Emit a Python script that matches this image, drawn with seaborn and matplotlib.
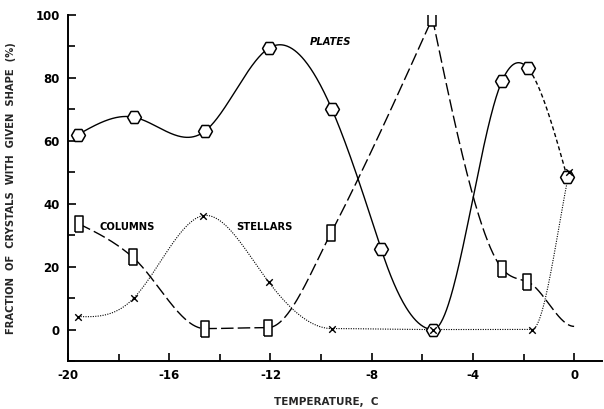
import numpy as np
import pandas as pd
import matplotlib
matplotlib.use("Agg")
import matplotlib.pyplot as plt
import seaborn as sns

# Crystal habit fractions (%) versus temperature (C)
plates_t = [-19.6, -17.4, -14.6, -12.05, -9.57, -7.63, -5.57, -2.85, -1.82, -0.28]
plates_pct = [62, 67.5, 63, 89.5, 70, 25.7, 0, 79, 83, 48.6]

columns_t = [-19.57, -17.43, -14.6, -12.1, -9.6, -5.6, -2.85, -1.85]
columns_pct = [33.6, 22.9, 0.3, 0.6, 30.8, 99, 19.4, 15.2]
columns_end_t, columns_end_pct = 0.0, 1.0

stellars_t = [-19.6, -17.4, -14.66, -12.06, -9.57, -5.57, -1.66, -0.2]
stellars_pct = [4.1, 10, 36.2, 15, 0.3, 0, 0, 50]

x_ticks = [-20, -16, -12, -8, -4, 0]
y_ticks = [0, 20, 40, 60, 80, 100]


def natural_slopes(x, y):
    k = len(x); h = np.diff(x); d = np.diff(y) / h
    if k == 2:
        return np.array([d[0], d[0]])
    A = np.zeros((k, k)); r = np.zeros(k)
    A[0, 0] = A[-1, -1] = 1
    for i in range(1, k - 1):
        A[i, i - 1] = h[i - 1]; A[i, i] = 2 * (h[i - 1] + h[i]); A[i, i + 1] = h[i]
        r[i] = 6 * (d[i] - d[i - 1])
    M = np.linalg.solve(A, r)
    m = np.empty(k)
    m[:-1] = d - h * (2 * M[:-1] + M[1:]) / 6
    m[-1] = d[-1] + h[-1] * (M[-2] + 2 * M[-1]) / 6
    return m


def hermite(x, y, m_out, m_in, xs):
    h = np.diff(x)
    j = np.clip(np.searchsorted(x, xs) - 1, 0, len(x) - 2)
    t = (xs - x[j]) / h[j]
    h00 = 2 * t**3 - 3 * t**2 + 1; h10 = t**3 - 2 * t**2 + t
    h01 = -2 * t**3 + 3 * t**2; h11 = t**3 - t**2
    return h00 * y[j] + h10 * h[j] * m_out[j] + h01 * y[j + 1] + h11 * h[j] * m_in[j + 1]


def smooth_curve(x, y, n=800):
    """Piecewise natural-spline curve: flat where the fraction sits at 0 %,
    pointed (split into separate pieces) where it reaches ~100 %."""
    x = np.asarray(x, float); y = np.asarray(y, float)
    k = len(x)
    cuts = [0] + [i for i in range(1, k - 1) if y[i] >= 98.0] + [k - 1]
    m_out = np.zeros(k); m_in = np.zeros(k)
    for a, b in zip(cuts[:-1], cuts[1:]):
        m = natural_slopes(x[a:b + 1], y[a:b + 1])
        m_out[a:b] = m[:-1]
        m_in[a + 1:b + 1] = m[1:]
    low = y <= 1.0
    m_out[low] = 0.0; m_in[low] = 0.0
    xs = np.linspace(x[0], x[-1], n)
    return xs, np.clip(hermite(x, y, m_out, m_in, xs), 0, None)


sns.set_style("ticks")
plt.rcParams["font.family"] = ["DejaVu Sans"]

fig = plt.figure(figsize=(6.04, 4.09), dpi=100)
ax = fig.add_axes([0.1126, 0.1174, 0.884, 0.846])

# plates: solid curve, short-dashed over the last interval
xp, yp = smooth_curve(plates_t, plates_pct)
solid = xp <= plates_t[-2]
sns.lineplot(x=xp[solid], y=yp[solid], ax=ax, color="black", lw=1.0, sort=False)
ax.plot(xp[~solid], yp[~solid], color="black", lw=1.0, dashes=(3, 2))

# columns: long-dashed curve
xc, yc = smooth_curve(columns_t + [columns_end_t], columns_pct + [columns_end_pct])
sns.lineplot(x=xc, y=yc, ax=ax, color="black", lw=1.0, sort=False)
ax.lines[-1].set_dashes((9, 3))

# stellars: fine dotted curve
xs, ys = smooth_curve(stellars_t, stellars_pct)
sns.lineplot(x=xs, y=ys, ax=ax, color="black", lw=0.8, sort=False)
ax.lines[-1].set_dashes((1, 1.2))

# markers
rect = [(-0.5, -1), (0.5, -1), (0.5, 1), (-0.5, 1), (-0.5, -1)]
sns.scatterplot(x=columns_t, y=columns_pct, ax=ax, marker=rect, s=140,
                facecolor="white", edgecolor="black", linewidth=1.1, zorder=5)
sns.scatterplot(x=plates_t, y=plates_pct, ax=ax, marker="H", s=100,
                facecolor="white", edgecolor="black", linewidth=1.1, zorder=6)
sns.scatterplot(x=stellars_t, y=stellars_pct, ax=ax, marker="x", s=22,
                color="black", linewidth=1.0, zorder=7)

# series labels
lab = dict(fontsize=7.2, fontweight="bold", color="black")
ax.text(-10.45, 91.5, "PLATES", ha="left", va="center", style="italic", **lab)
ax.text(-18.75, 32.7, "COLUMNS", ha="left", va="center", **lab)
ax.text(-13.35, 32.5, "STELLARS", ha="left", va="center", **lab)

ax.set_xlim(-20, 1.1)
ax.set_ylim(-10, 100)
ax.set_xticks(x_ticks)
ax.set_xticklabels([str(v) for v in x_ticks])
ax.set_xticks(np.arange(-18, 1, 4), minor=True)
ax.set_yticks(y_ticks)
ax.set_yticklabels([str(v) for v in y_ticks])
ax.set_yticks(np.arange(-10, 100, 20), minor=True)
ax.tick_params(axis="both", which="both", direction="in", width=1.2, colors="black",
               labelsize=8.5, pad=6)
ax.tick_params(which="major", length=6)
ax.tick_params(which="minor", length=5)
for t in ax.get_xticklabels() + ax.get_yticklabels():
    t.set_fontweight("bold")
sns.despine(ax=ax)
for s in ("left", "bottom"):
    ax.spines[s].set_linewidth(1.4)
    ax.spines[s].set_color("black")

ax.set_xlabel("")
ax.set_ylabel("FRACTION  OF  CRYSTALS  WITH  GIVEN  SHAPE  (%)",
              fontsize=7.2, fontweight="bold", labelpad=14)
fig.text(326 / 604, 1 - 402 / 409, "TEMPERATURE,  C", ha="center", va="center",
         fontsize=7.5, fontweight="bold")

fig.savefig("out.png", dpi=100)
